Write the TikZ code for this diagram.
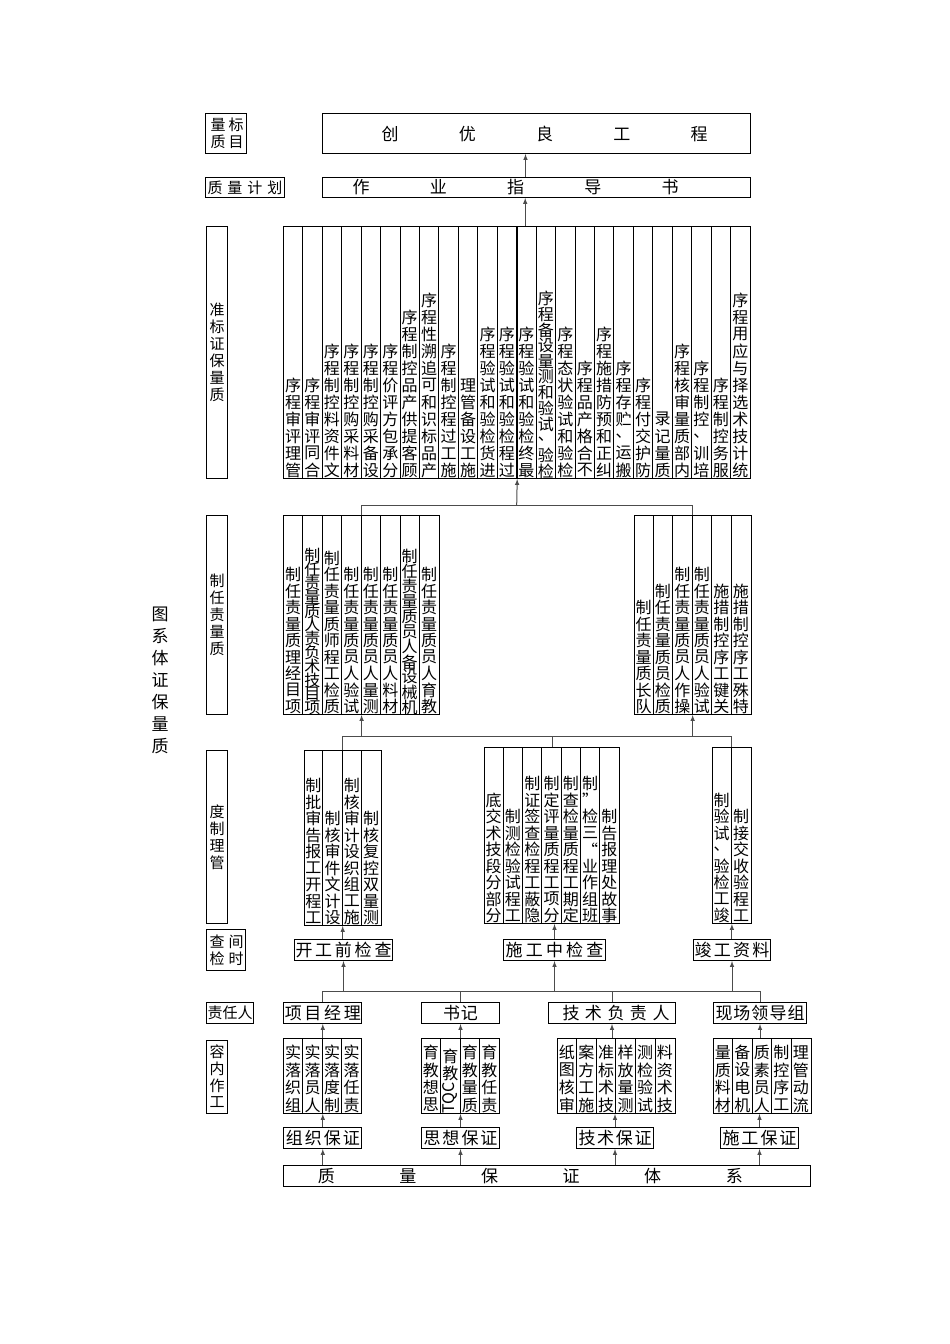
\documentclass[tikz,border=0pt]{standalone}
\usepackage{fontspec}
\setmainfont{Noto Sans CJK SC}
\usepackage{graphicx}
\usetikzlibrary{positioning}
\usetikzlibrary{calc}
% upright characters stacked from bottom to top
\makeatletter
\newdimen\vsstep \vsstep=17pt
\newdimen\vsmax \vsmax=1000pt
\newbox\vsbox
\def\vs@loop#1#2\relax{%
  \if\relax\detokenize{#2}\relax
    \vs@one{#1}%
  \else
    \vs@loop#2\relax
    \vs@one{#1}%
  \fi}
\def\vs@one#1{%
  \setbox\z@\hbox{#1}%
  \ifdim\dimexpr\ht\z@+\dp\z@\relax>1.4\vsstep
    \hbox to\z@{\hss\box\z@\hss}%
  \else
    \vbox to\vsstep{\vss\hbox to\z@{\hss\box\z@\hss}\vss}%
  \fi}
\newcommand{\vstack}[1]{%
  \setbox\vsbox\vbox{\offinterlineskip\expandafter\vs@loop#1\relax}%
  \ifdim\ht\vsbox>\vsmax
    \vsstep=\dimexpr\vsstep*\vsmax/\ht\vsbox\relax
    \setbox\vsbox\vbox{\offinterlineskip\expandafter\vs@loop#1\relax}%
  \fi
  \box\vsbox}
\makeatother
\newcommand{\tqc}{\rotatebox{90}{TQC}}
\newcommand{\spread}[4]{\hbox to #1pt{\hskip #2pt\relax #4\hskip #3pt\relax}}
\tikzset{
  box/.style={draw, line width=1pt, inner sep=0pt, anchor=north west},
  coltext/.style={inner sep=0pt, anchor=south, font=\fontsize{16}{16}\selectfont},
  tagtext/.style={font=\fontsize{15}{15}\selectfont},
  boxtext/.style={font=\fontsize{17}{17}\selectfont},
  link/.style={draw=black!70, line width=1pt},
  up/.style={link, -latex},
  titletext/.style={inner sep=0pt, font=\fontsize{17}{17}\selectfont},
}
% #1 name, #2 top left, #3 column width, #4 height, #5 max text height, #6 step, #7 texts
\newcommand{\tikzcolumns}[7]{%
\foreach \t [count=\n] in {#7} {\xdef\ncols{\n}}
\node[box, minimum width=\ncols*#3, minimum height=#4] (#1) at (#2) {};
\foreach \t [count=\n] in {#7} {
  \ifnum\n<\ncols
    \draw[line width=1pt] ($(#1.south west)+(\n*#3,0)$) -- ($(#1.north west)+(\n*#3,0)$);
  \fi
  \node[coltext] (#1-\n) at ($(#1.south west)+(\n*#3-0.5*#3,0)$) {\vsstep=#6pt\vsmax=#5pt\vstack{\t}};
}
}

\begin{document}
\begin{tikzpicture}[x=1pt, y=-1pt]
\useasboundingbox (0,0) rectangle (950,1344);

% title
\node[titletext] (caption) at (160,680) {\vsstep=22pt\vstack{质量保证体系图}};

% row labels
\node[box, minimum width=41, minimum height=40] (goallab) at (205,113) {};
\node[tagtext, inner sep=0pt] (goallab-a) at ($(goallab.center)+(-8,0)$) {\vstack{质量}};
\node[tagtext, inner sep=0pt] (goallab-b) at ($(goallab.center)+(10,0)$) {\vstack{目标}};
\node[box, tagtext, minimum width=79, minimum height=20] (planlab) at (205,177) {\spread{79}{2}{2}{质\hfil 量\hfil 计\hfil 划}};
\node[box, tagtext, minimum width=21, minimum height=252] (stdlab) at (206,226) {\vstack{质量保证标准}};
\node[box, tagtext, minimum width=21, minimum height=199] (resplab) at (206,515) {\vstack{质量责任制}};
\node[box, tagtext, minimum width=21, minimum height=173] (mgmtlab) at (206,750) {\vstack{管理制度}};
\node[box, minimum width=39, minimum height=41] (checklab) at (206,929) {};
\node[tagtext, inner sep=0pt] (checklab-a) at ($(checklab.center)+(-9,0)$) {\vstack{检查}};
\node[tagtext, inner sep=0pt] (checklab-b) at ($(checklab.center)+(10,0)$) {\vstack{时间}};
\node[box, tagtext, minimum width=47, minimum height=21] (personlab) at (206,1002) {\spread{47}{1}{1}{责\hfil 任\hfil 人}};
\node[box, tagtext, minimum width=21, minimum height=73] (worklab) at (206,1040) {\vstack{工作内容}};

% goal and plan
\node[box, boxtext, minimum width=428, minimum height=40] (goal) at (322,113) {\spread{428}{59}{43}{创\hfil 优\hfil 良\hfil 工\hfil 程}};
\node[box, boxtext, minimum width=428, minimum height=20] (plan) at (322,177) {\spread{428}{30}{72}{作\hfil 业\hfil 指\hfil 导\hfil 书}};
\draw[up] ([xshift=-11pt]plan.north) -- ([xshift=-11pt]goal.south);

% quality assurance standard
\tikzcolumns{std}{283.3,226}{19.45}{252}{188}{17}{管理评审程序, 合同评审程序, 文件资料控制程序, 材料采购控制程序, 设备采购控制程序, 分承包方评价程序, 顾客提供产品控制程序, 产品标识和可追溯性程序, 施工过程控制程序, 施工设备管理, 进货检验和试验程序, 过程检验和试验程序, 最终检验和试验程序, 检验、试验和测量设备程序, 检验和试验状态程序, 不合格产品程序, 纠正和预防措施程序, 搬运、贮存程序, 防护交付程序, 质量记录, 内部质量审核程序, 培训、控制程序, 服务控制程序, 统计技术选择与应用程序}
\draw[line width=1.8pt] (std.south) -- (std.north);
\draw[up] ([xshift=8pt]std.north) -- ([xshift=8pt]std.north |- plan.south);

% quality responsibility
\tikzcolumns{respL}{283.3,515}{19.45}{199}{166}{16.5}{项目经理质量责任制, 项目技术负责人质量责任制, 质检工程师质量责任制, 试验人员质量责任制, 测量人员质量责任制, 材料人员质量责任制, 机械设备人员质量责任制, 教育人员质量责任制}
\tikzcolumns{respR}{633.8,515}{19.45}{199}{166}{16.5}{队长质量责任制, 质检员质量责任制, 操作人员质量责任制, 试验人员质量责任制, 关键工序控制措施, 特殊工序控制措施}
\coordinate (j1) at (516.7,505);
\draw[up] (j1) -- (std.south);
\draw[link] (respL.north) -- (respL.north |- j1) -- (respR.north |- j1) -- (respR.north);

% management rules
\tikzcolumns{mgmtL}{303.7,750}{19.25}{175}{170}{16.5}{工程开工报告审批制, 设计文件审核制, 施工组织设计审核制, 测量双控复核制}
\tikzcolumns{mgmtM}{484,747}{19.3}{176}{170}{16.5}{分部分段技术交底, 工程试验检测制, 隐蔽工程检查签证制, 分项工程质量评定制, 定期工程质量检查制, 班组作业“三检”制, 事故处理报告制}
\tikzcolumns{mgmtR}{712,747}{19.4}{176}{170}{16.5}{竣工检验、试验制, 工程验收交接制}
\coordinate (j2) at (342.2,736);
\draw[link] (mgmtL.north) -- (mgmtL.north |- j2) -- (mgmtR.north |- j2) -- (mgmtR.north);
\draw[link] (mgmtM.north |- j2) -- (mgmtM.north);
\draw[up] (respL.south |- j2) -- (respL.south);
\draw[up] (respR.south |- j2) -- (respR.south);

% check time
\node[box, boxtext, minimum width=98, minimum height=21] (check1) at (294,939) {\spread{98}{1}{1}{开\hfil 工\hfil 前\hfil 检\hfil 查}};
\node[box, boxtext, minimum width=102, minimum height=21] (check2) at (503,939) {\spread{102}{2}{2}{施\hfil 工\hfil 中\hfil 检\hfil 查}};
\node[box, boxtext, minimum width=77, minimum height=21] (check3) at (693,939) {\spread{77}{1}{1}{竣\hfil 工\hfil 资\hfil 料}};
\draw[up] (mgmtL.south |- check1.north) -- (mgmtL.south);
\draw[up] (check2.north) -- (check2.north |- mgmtM.south);
\draw[up] (mgmtR.south |- check3.north) -- (mgmtR.south);

% persons in charge
\node[box, boxtext, minimum width=78, minimum height=21] (pA) at (283.3,1002) {\spread{78}{1}{1}{项\hfil 目\hfil 经\hfil 理}};
\node[box, boxtext, minimum width=78, minimum height=21] (pB) at (421,1002) {书\hskip1pt 记};
\node[box, boxtext, minimum width=127, minimum height=21] (pC) at (548,1002) {\spread{127}{14}{6}{技\hfil 术\hfil 负\hfil 责\hfil 人}};
\node[box, boxtext, minimum width=93, minimum height=21] (pD) at (713,1002) {\spread{93}{2}{2}{现\hfil 场\hfil 领\hfil 导\hfil 组}};
\coordinate (j3) at (322.5,991);
\draw[link] (pA.north) -- (pA.north |- j3) -- (pD.north |- j3) -- (pD.north);
\draw[link] (pB.north) -- (pB.north |- j3);
\draw[link] (pC.north) -- (pC.north |- j3);
\draw[up] (check1.south |- j3) -- (check1.south);
\draw[up] (check2.south |- j3) -- (check2.south);
\draw[up] (check3.south |- j3) -- (check3.south);

% work content
\tikzcolumns{workA}{283.3,1038}{19.5}{75}{74}{17.5}{组织落实, 人员落实, 制度落实, 责任落实}
\tikzcolumns{workB}{421,1038}{19.5}{75}{74}{17.5}{思想教育, \tqc 教育, 质量教育, 责任教育}
\tikzcolumns{workC}{557,1038}{19.6}{75}{74}{17.5}{审核图纸, 施工方案, 技术标准, 测量放样, 试验检测, 技术资料}
\tikzcolumns{workD}{713,1038}{19.5}{75}{74}{17.5}{材料质量, 机电设备, 人员素质, 工序控制, 流动管理}
\draw[up] (workA.north) -- (workA.north |- pA.south);
\draw[up] (workB.north) -- (workB.north |- pB.south);
\draw[up] (pC.south |- workC.north) -- (pC.south);
\draw[up] (pD.south |- workD.north) -- (pD.south);

% guarantees
\node[box, boxtext, minimum width=78, minimum height=21] (gA) at (283.3,1127) {\spread{78}{2}{2}{组\hfil 织\hfil 保\hfil 证}};
\node[box, boxtext, minimum width=78, minimum height=21] (gB) at (421,1127) {\spread{78}{2}{2}{思\hfil 想\hfil 保\hfil 证}};
\node[box, boxtext, minimum width=77, minimum height=21] (gC) at (576,1127) {\spread{77}{2}{2}{技\hfil 术\hfil 保\hfil 证}};
\node[box, boxtext, minimum width=78, minimum height=21] (gD) at (720,1127) {\spread{78}{2}{2}{施\hfil 工\hfil 保\hfil 证}};
\draw[up] (gA.north) -- (gA.north |- workA.south);
\draw[up] (gB.north) -- (gB.north |- workB.south);
\draw[up] (gC.north) -- (gC.north |- workC.south);
\draw[up] (gD.north) -- (gD.north |- workD.south);

% quality assurance system
\node[box, boxtext, minimum width=527, minimum height=21] (system) at (283.3,1165) {\spread{527}{34}{68}{质\hfil 量\hfil 保\hfil 证\hfil 体\hfil 系}};
\draw[up] (gA.south |- system.north) -- (gA.south);
\draw[up] (gB.south |- system.north) -- (gB.south);
\draw[up] (gC.south |- system.north) -- (gC.south);
\draw[up] (gD.south |- system.north) -- (gD.south);
\end{tikzpicture}
\end{document}
